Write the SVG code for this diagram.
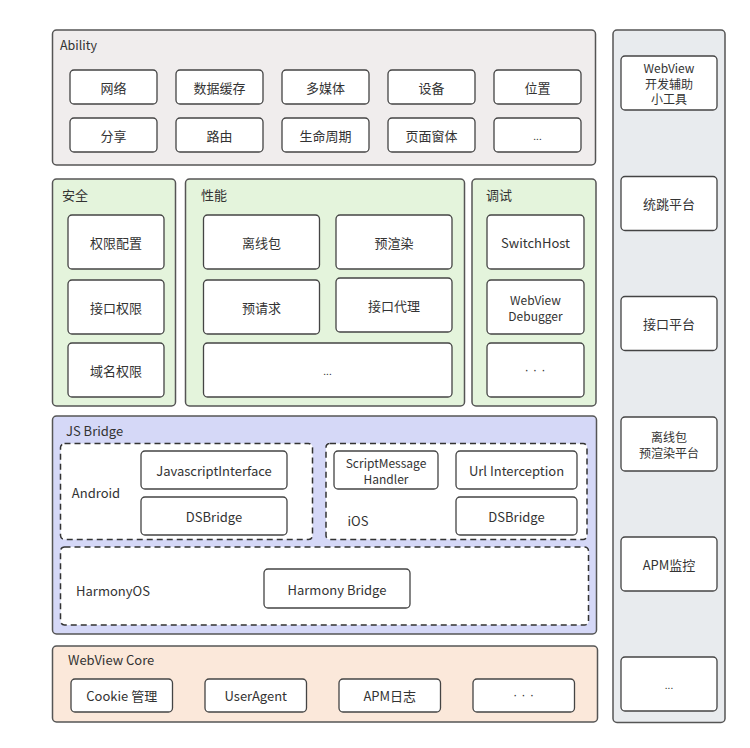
<svg xmlns="http://www.w3.org/2000/svg" width="750" height="748" viewBox="0 0 750 748">
<style>
text{font-family:"Noto Sans CJK SC","Noto Sans",sans-serif;fill:#333;font-size:13px}
.c{text-anchor:middle;dominant-baseline:central}
.t{font-size:12.5px}
.m{font-size:12px}
.panel{stroke:#555;stroke-width:1.5}
.box{fill:#fff;stroke:#444;stroke-width:1.3}
.dash{fill:#fff;stroke:#333;stroke-width:1.5;stroke-dasharray:6 4}
.dots{font-family:"Liberation Sans",sans-serif;letter-spacing:4px;font-size:13px}
.ell{font-size:10px}
</style>
<rect width="750" height="748" fill="#fff"/>

<g id="ability">
<rect class="panel" x="52.5" y="30" width="543" height="135" rx="4" fill="#f0eded"/>
<text class="t" x="60" y="50">Ability</text>
<g id="a1"><rect class="box" x="70" y="70" width="87" height="34" rx="4"/><text class="c" x="113.5" y="87">网络</text></g>
<g id="a2"><rect class="box" x="176" y="70" width="87" height="34" rx="4"/><text class="c" x="219.5" y="87">数据缓存</text></g>
<g id="a3"><rect class="box" x="282" y="70" width="87" height="34" rx="4"/><text class="c" x="325.5" y="87">多媒体</text></g>
<g id="a4"><rect class="box" x="388" y="70" width="87" height="34" rx="4"/><text class="c" x="431.5" y="87">设备</text></g>
<g id="a5"><rect class="box" x="494" y="70" width="87" height="34" rx="4"/><text class="c" x="537.5" y="87">位置</text></g>
<g id="a6"><rect class="box" x="70" y="118" width="87" height="34" rx="4"/><text class="c" x="113.5" y="135">分享</text></g>
<g id="a7"><rect class="box" x="176" y="118" width="87" height="34" rx="4"/><text class="c" x="219.5" y="135">路由</text></g>
<g id="a8"><rect class="box" x="282" y="118" width="87" height="34" rx="4"/><text class="c" x="325.5" y="135">生命周期</text></g>
<g id="a9"><rect class="box" x="388" y="118" width="87" height="34" rx="4"/><text class="c" x="431.5" y="135">页面窗体</text></g>
<g id="a10"><rect class="box" x="494" y="118" width="87" height="34" rx="4"/><text class="c ell" x="537.5" y="135">...</text></g>
</g>

<g id="security">
<rect class="panel" x="52.5" y="179" width="123" height="227" rx="4" fill="#e4f4dc"/>
<text x="62" y="200">安全</text>
<g id="s1"><rect class="box" x="68" y="215" width="96" height="54" rx="4"/><text class="c" x="116" y="242">权限配置</text></g>
<g id="s2"><rect class="box" x="68" y="280" width="96" height="54" rx="4"/><text class="c" x="116" y="307">接口权限</text></g>
<g id="s3"><rect class="box" x="68" y="343" width="96" height="54" rx="4"/><text class="c" x="116" y="370">域名权限</text></g>
</g>

<g id="perf">
<rect class="panel" x="185.5" y="179" width="279" height="227" rx="4" fill="#e4f4dc"/>
<text x="201" y="200">性能</text>
<g id="p1"><rect class="box" x="203.5" y="215" width="116" height="54" rx="4"/><text class="c" x="261.5" y="242">离线包</text></g>
<g id="p2"><rect class="box" x="336" y="215" width="116" height="54" rx="4"/><text class="c" x="394" y="242">预渲染</text></g>
<g id="p3"><rect class="box" x="203.5" y="280" width="116" height="54" rx="4"/><text class="c" x="261.5" y="307">预请求</text></g>
<g id="p4"><rect class="box" x="336" y="278" width="116" height="54" rx="4"/><text class="c" x="394" y="305">接口代理</text></g>
<g id="p5"><rect class="box" x="203.5" y="343" width="248.5" height="54" rx="4"/><text class="c ell" x="327.5" y="370">...</text></g>
</g>

<g id="debug">
<rect class="panel" x="472" y="179" width="124" height="227" rx="4" fill="#e4f4dc"/>
<text x="486" y="200">调试</text>
<g id="d1"><rect class="box" x="487" y="215" width="97" height="54" rx="4"/><text class="c" x="535.5" y="242">SwitchHost</text></g>
<g id="d2"><rect class="box" x="487" y="280" width="97" height="54" rx="4"/><text class="c m" x="535.5" y="299">WebView</text><text class="c m" x="535.5" y="315">Debugger</text></g>
<g id="d3"><rect class="box" x="487" y="343" width="97" height="54" rx="4"/><text class="c dots" x="537" y="369">···</text></g>
</g>

<g id="jsbridge">
<rect class="panel" x="52.5" y="416" width="544" height="218" rx="4" fill="#d5d8f7"/>
<text x="66" y="436">JS Bridge</text>
<g id="android">
<rect class="dash" x="60.5" y="443.5" width="252" height="96" rx="4"/>
<text class="c" x="96" y="492">Android</text>
<g id="j1"><rect class="box" x="141" y="451" width="146" height="38" rx="4"/><text class="c" x="214" y="470">JavascriptInterface</text></g>
<g id="j2"><rect class="box" x="141" y="497" width="146" height="38" rx="4"/><text class="c" x="214" y="516">DSBridge</text></g>
</g>
<g id="ios">
<rect class="dash" x="326" y="443.5" width="261" height="96" rx="4"/>
<text class="c" x="358" y="520">iOS</text>
<g id="j3"><rect class="box" x="334" y="451" width="104" height="38" rx="4"/><text class="c m" x="386" y="462">ScriptMessage</text><text class="c m" x="386" y="478">Handler</text></g>
<g id="j4"><rect class="box" x="456" y="451" width="121" height="38" rx="4"/><text class="c" x="516.5" y="470">Url Interception</text></g>
<g id="j5"><rect class="box" x="456" y="497" width="121" height="38" rx="4"/><text class="c" x="516.5" y="516">DSBridge</text></g>
</g>
<g id="harmony">
<rect class="dash" x="60.5" y="547" width="528" height="78" rx="4"/>
<text class="c" x="113" y="590">HarmonyOS</text>
<g id="j6"><rect class="box" x="264" y="569" width="146" height="39" rx="4"/><text class="c" x="337" y="589">Harmony Bridge</text></g>
</g>
</g>

<g id="core">
<rect class="panel" x="52.5" y="646" width="545" height="76" rx="4" fill="#fbe8da"/>
<text x="68" y="665">WebView Core</text>
<g id="c1"><rect class="box" x="71" y="679" width="101.5" height="33" rx="4"/><text class="c" x="121.75" y="695.5">Cookie 管理</text></g>
<g id="c2"><rect class="box" x="205" y="679" width="101.5" height="33" rx="4"/><text class="c" x="255.75" y="695.5">UserAgent</text></g>
<g id="c3"><rect class="box" x="339" y="679" width="101.5" height="33" rx="4"/><text class="c" x="389.75" y="695.5">APM日志</text></g>
<g id="c4"><rect class="box" x="473" y="679" width="101.5" height="33" rx="4"/><text class="c dots" x="525.5" y="694.5">···</text></g>
</g>

<g id="tools">
<rect class="panel" x="613" y="30" width="112" height="692.5" rx="4" fill="#e8ebee"/>
<g id="t1"><rect class="box" x="621" y="56" width="96" height="54" rx="4"/><text class="c m" x="669" y="67.5">WebView</text><text class="c m" x="669" y="83">开发辅助</text><text class="c m" x="669" y="98.5">小工具</text></g>
<g id="t2"><rect class="box" x="621" y="176.5" width="96" height="54" rx="4"/><text class="c" x="669" y="203.5">统跳平台</text></g>
<g id="t3"><rect class="box" x="621" y="296.5" width="96" height="54" rx="4"/><text class="c" x="669" y="323.5">接口平台</text></g>
<g id="t4"><rect class="box" x="621" y="417" width="96" height="54" rx="4"/><text class="c m" x="669" y="436">离线包</text><text class="c m" x="669" y="452">预渲染平台</text></g>
<g id="t5"><rect class="box" x="621" y="537" width="96" height="54" rx="4"/><text class="c" x="669" y="564">APM监控</text></g>
<g id="t6"><rect class="box" x="621" y="657" width="96" height="54" rx="4"/><text class="c ell" x="669" y="684">...</text></g>
</g>
<g id="connectors"/>
</svg>
